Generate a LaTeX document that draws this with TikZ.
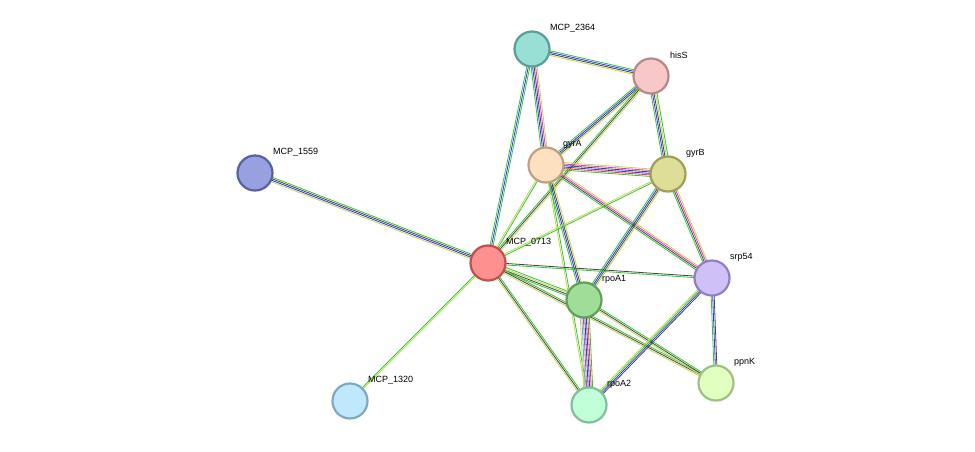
\documentclass[tikz,border=0pt]{standalone}
\usepackage{fontspec}
\setmainfont{Liberation Sans}
\usetikzlibrary{calc}
\definecolor{G}{rgb}{0.2,0.78,0.2}
\definecolor{Y}{rgb}{0.78,0.84,0.29}
\definecolor{K}{rgb}{0.27,0.27,0.27}
\definecolor{B}{rgb}{0.2,0.2,0.92}
\definecolor{M}{rgb}{0.88,0.2,0.88}
\definecolor{R}{rgb}{0.95,0.2,0.2}
\definecolor{C}{rgb}{0.25,0.75,0.88}
\newcommand\sedge[4]{\foreach \c [count=\i] in {#3} {%
  \pgfmathsetmacro\o{(\i-(#4+1)/2)*1.5}%
  \draw[\c, line width=0.8pt] ($(#1)!\o pt!90:(#2)$) -- ($(#2)!\o pt!-90:(#1)$);}}
\tikzset{prot/.style={circle, minimum size=35pt, inner sep=0pt, line width=2.2pt},
 lab/.style={anchor=west, font=\fontsize{9}{10}\selectfont, inner sep=0pt}}
\begin{document}
\begin{tikzpicture}[x=1pt,y=-1pt]
\useasboundingbox (0,0) rectangle (975,451);
\fill[white] (0,0) rectangle (975,451);
\coordinate (a2364) at (532,49);
\coordinate (ahisS) at (651,76);
\coordinate (agyrA) at (546,165);
\coordinate (agyrB) at (668,174);
\coordinate (a1559) at (255,173);
\coordinate (a0713) at (488,263);
\coordinate (asrp) at (712,278);
\coordinate (arpoA1) at (584,300);
\coordinate (appnK) at (716,383);
\coordinate (arpoA2) at (589,405);
\coordinate (a1320) at (350,401);
\sedge{a2364}{ahisS}{Y,K,B,G}{4}
\sedge{a2364}{agyrA}{G,B,K,M,Y}{5}
\sedge{a2364}{a0713}{G,B,G}{3}
\sedge{ahisS}{agyrA}{G,B,K,Y}{4}
\sedge{ahisS}{a0713}{G,K,Y}{3}
\sedge{ahisS}{agyrB}{G,B,K,Y,G}{5}
\sedge{agyrA}{agyrB}{G,R,B,K,M,Y}{6}
\sedge{agyrA}{a0713}{Y,G}{2}
\sedge{agyrA}{arpoA1}{G,B,K,Y}{4}
\sedge{agyrA}{asrp}{G,K,M,Y}{4}
\sedge{agyrA}{arpoA2}{Y,G}{2}
\sedge{agyrB}{a0713}{Y,G}{2}
\sedge{agyrB}{arpoA1}{G,B,K,Y}{4}
\sedge{agyrB}{asrp}{G,K,M,Y}{4}
\sedge{a1559}{a0713}{Y,B,K,G}{4}
\sedge{a1320}{a0713}{Y,G}{2}
\sedge{a0713}{asrp}{G,K}{2}
\sedge{a0713}{arpoA1}{G,K,Y,G}{4}
\sedge{a0713}{arpoA2}{Y,K,G}{3}
\sedge{a0713}{appnK}{Y,K,G}{3}
\sedge{arpoA1}{arpoA2}{Y,C,M,K,B,R,G}{7}
\sedge{arpoA1}{appnK}{Y,K,G}{3}
\sedge{asrp}{arpoA2}{Y,G,B,K}{4}
\sedge{asrp}{appnK}{G,B,K}{3}
\node[prot, fill={rgb,255:red,152;green,224;blue,214}, draw={rgb,255:red,90;green,158;blue,148}] (n2364) at (a2364) {};
\node[prot, fill={rgb,255:red,248;green,200;blue,200}, draw={rgb,255:red,184;green,136;blue,136}] (nhisS) at (ahisS) {};
\node[prot, fill={rgb,255:red,253;green,224;blue,192}, draw={rgb,255:red,192;green,160;blue,128}] (ngyrA) at (agyrA) {};
\node[prot, fill={rgb,255:red,222;green,222;blue,152}, draw={rgb,255:red,158;green,158;blue,88}] (ngyrB) at (agyrB) {};
\node[prot, fill={rgb,255:red,152;green,160;blue,224}, draw={rgb,255:red,88;green,96;blue,160}] (n1559) at (a1559) {};
\node[prot, fill={rgb,255:red,255;green,144;blue,144}, draw={rgb,255:red,192;green,80;blue,80}] (n0713) at (a0713) {};
\node[prot, fill={rgb,255:red,208;green,192;blue,248}, draw={rgb,255:red,144;green,128;blue,192}] (nsrp) at (asrp) {};
\node[prot, fill={rgb,255:red,160;green,221;blue,152}, draw={rgb,255:red,96;green,160;blue,88}] (nrpoA1) at (arpoA1) {};
\node[prot, fill={rgb,255:red,224;green,255;blue,192}, draw={rgb,255:red,160;green,192;blue,128}] (nppnK) at (appnK) {};
\node[prot, fill={rgb,255:red,192;green,255;blue,216}, draw={rgb,255:red,128;green,192;blue,152}] (nrpoA2) at (arpoA2) {};
\node[prot, fill={rgb,255:red,192;green,232;blue,252}, draw={rgb,255:red,128;green,168;blue,192}] (n1320) at (a1320) {};
\node[lab] (l2364) at ($(a2364)+(18,-21)$) {MCP\_2364};
\node[lab] (lhisS) at ($(ahisS)+(19,-21)$) {hisS};
\node[lab] (lgyrA) at ($(agyrA)+(17,-21)$) {gyrA};
\node[lab] (lgyrB) at ($(agyrB)+(18,-21)$) {gyrB};
\node[lab] (l1559) at ($(a1559)+(18,-21)$) {MCP\_1559};
\node[lab] (l0713) at ($(a0713)+(18,-21)$) {MCP\_0713};
\node[lab] (lsrp) at ($(asrp)+(18,-21)$) {srp54};
\node[lab] (lrpoA1) at ($(arpoA1)+(18,-21)$) {rpoA1};
\node[lab] (lppnK) at ($(appnK)+(18,-21)$) {ppnK};
\node[lab] (lrpoA2) at ($(arpoA2)+(18,-21)$) {rpoA2};
\node[lab] (l1320) at ($(a1320)+(18,-21)$) {MCP\_1320};
\end{tikzpicture}
\end{document}
